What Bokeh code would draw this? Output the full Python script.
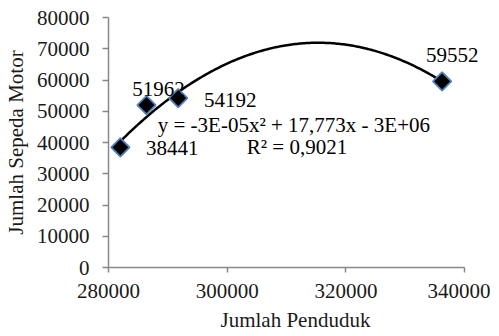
import numpy as np
from bokeh.plotting import figure
from bokeh.models import Range1d, NumeralTickFormatter, Label, ColumnDataSource
from bokeh.embed import file_html
from bokeh.resources import INLINE

# Data
penduduk = [282000, 286400, 291740, 336200]        # Jumlah Penduduk (x)
sepeda_motor = [38441, 51962, 54192, 59552]        # Jumlah Sepeda Motor (y)
point_labels = ["38441", "51962", "54192", "59552"]
equation_text = "y = -3E-05x² + 17,773x - 3E+06"
r2_text = "R² = 0,9021"
x_title = "Jumlah Penduduk"
y_title = "Jumlah Sepeda Motor"

# label offsets (screen px, y up) for each point label
label_dx = [52, 12, 52, 10]
label_dy = [-1, 16, -2, 26]

FONT = "Liberation Serif"
AXIS_GREY = "#888888"

p = figure(output_backend="svg", toolbar_location=None,
           frame_width=374, frame_height=250,
           min_border_left=101, min_border_right=8, min_border_top=17, min_border_bottom=62,
           x_range=Range1d(280000, 343000), y_range=Range1d(0, 80000))
p.outline_line_color = None
p.xgrid.visible = False
p.ygrid.visible = False

p.xaxis.major_label_text_font = FONT
p.xaxis.major_label_text_font_size = "21px"
p.xaxis.major_label_text_color = "#1a1a1a"
p.yaxis.major_label_text_font = FONT
p.yaxis.major_label_text_font_size = "21px"
p.yaxis.major_label_text_color = "#1a1a1a"
p.xaxis.axis_label = x_title
p.yaxis.axis_label = y_title
p.xaxis.axis_label_text_font = FONT
p.yaxis.axis_label_text_font = FONT
p.xaxis.axis_label_text_font_size = "21px"
p.yaxis.axis_label_text_font_size = "21px"
p.xaxis.axis_label_text_font_style = "normal"
p.yaxis.axis_label_text_font_style = "normal"
p.xaxis.axis_label_text_color = "#1a1a1a"
p.yaxis.axis_label_text_color = "#1a1a1a"
p.xaxis.formatter = NumeralTickFormatter(format="0")
p.yaxis.formatter = NumeralTickFormatter(format="0")

p.xaxis[0].ticker.desired_num_ticks = 3
p.xaxis.bounds = (280000, 340000)

p.xaxis.axis_line_color = AXIS_GREY
p.yaxis.axis_line_color = AXIS_GREY
p.xaxis.axis_line_width = 1.5
p.yaxis.axis_line_width = 1.5
p.xaxis.major_tick_line_color = AXIS_GREY
p.yaxis.major_tick_line_color = AXIS_GREY
p.xaxis.major_tick_line_width = 1.5
p.yaxis.major_tick_line_width = 1.5
p.xaxis.minor_tick_line_color = None
p.yaxis.minor_tick_line_color = None
p.xaxis.major_tick_in = 0
p.yaxis.major_tick_in = 0
p.xaxis.major_tick_out = 5
p.yaxis.major_tick_out = 6
p.xaxis.major_label_standoff = 11
p.yaxis.major_label_standoff = 13
p.xaxis.axis_label_standoff = 7
p.yaxis.axis_label_standoff = 6

# polynomial trendline (order 2), fitted from the data
coef = np.polyfit(penduduk, sepeda_motor, 2)
xs = np.linspace(min(penduduk), max(penduduk), 200)
p.line(xs, np.polyval(coef, xs), line_color="black", line_width=2.5)

src = ColumnDataSource(dict(x=penduduk, y=sepeda_motor))
p.scatter("x", "y", source=src, marker="square", angle=np.pi / 4, size=13,
          fill_color="black", line_color="#4F81BD", line_width=1.8)
for xv, yv, lab, dx, dy in zip(penduduk, sepeda_motor, point_labels, label_dx, label_dy):
    p.add_layout(Label(x=xv, y=yv, text=lab, x_offset=dx, y_offset=dy,
                       text_font=FONT, text_font_size="21px", text_align="center",
                       text_baseline="middle", text_color="black"))

p.add_layout(Label(x=288300, y=45700, text=equation_text, text_font=FONT,
                   text_font_size="21px", text_baseline="middle", text_align="left",
                   text_color="black"))
p.add_layout(Label(x=303300, y=38500, text=r2_text, text_font=FONT,
                   text_font_size="21px", text_baseline="middle", text_align="left",
                   text_color="black"))

open("out.html", "w").write(file_html(p, INLINE))
